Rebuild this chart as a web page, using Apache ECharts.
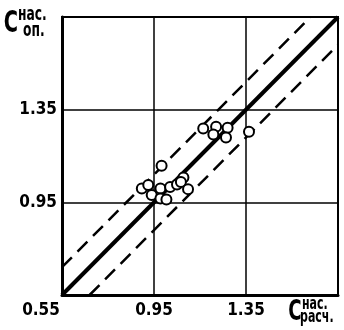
<!DOCTYPE html>
<html>
<head>
<meta charset="utf-8">
<script src="https://cdn.jsdelivr.net/npm/echarts@6/dist/echarts.min.js"></script>
<style>
    html, body {margin: 0; padding: 0; background: #fff;}
    #chart {width: 344px; height: 330px;}
</style>
</head>
<body>
<div id="chart"></div>
<script>
// оси
var axisMin = 0.55, axisMax = 1.75, axisStep = 0.4;
var xTickLabels = ['0.55', '0.95', '1.35'];
var yTickLabels = ['0.95', '1.35'];

// опытные точки: C расч. / C оп.
var calcValues = [1.164, 1.220, 1.270, 1.208, 1.263, 1.363, 0.983, 0.897, 0.925, 0.940,
    0.978, 0.978, 1.004, 1.020, 1.050, 1.078, 1.067, 1.098];
var expValues = [1.269, 1.276, 1.272, 1.243, 1.230, 1.255, 1.108, 1.010, 1.025, 0.982,
    1.010, 0.967, 0.962, 1.016, 1.027, 1.057, 1.038, 1.007];

// линия y = x и границы разброса
var diagonal = [[0.55, 0.55], [1.75, 1.75]];
var upperBound = [[0.55, 0.67], [1.63, 1.75]];
var lowerBound = [[0.67, 0.55], [1.75, 1.63]];

var labelFont = "'Liberation Sans Narrow', 'DejaVu Sans Condensed', sans-serif";

var chart = echarts.init(document.getElementById('chart'));

var points = [];
for (var i = 0; i < calcValues.length; i++) {
    points.push([calcValues[i], expValues[i]]);
}

function pickLabel(list) {
    return function (v) {
        var s = v.toFixed(2);
        if (list.indexOf(s) < 0) return '';
        if (s === '0.55') return '{c|' + s + '}';
        return s;
    };
}

function txt(x, y, text, size, align) {
    return {
        type: 'text', x: x, y: y, scaleX: 0.72,
        style: {text: text, fontFamily: labelFont, fontWeight: 'bold', fontSize: size, fill: '#000',
            align: align, verticalAlign: 'middle'}
    };
}

var option = {
    backgroundColor: '#fff',
    animation: false,
    grid: {
        left: 62, right: 6, top: 17, bottom: 35,
        show: true, borderColor: '#000', borderWidth: 2
    },
    xAxis: {
        type: 'value',
        min: axisMin, max: axisMax, interval: axisStep,
        axisLine: {lineStyle: {color: '#000', width: 3}},
        axisTick: {show: false},
        splitLine: {lineStyle: {color: '#000', width: 1.5}},
        axisLabel: {
            margin: 7,
            color: '#000',
            fontFamily: labelFont,
            fontWeight: 'bold',
            fontSize: 17,
            formatter: pickLabel(xTickLabels),
            rich: {
                c: {fontFamily: labelFont, fontWeight: 'bold', fontSize: 17, color: '#000', padding: [0, 42, 0, 0]}
            }
        }
    },
    yAxis: {
        type: 'value',
        min: axisMin, max: axisMax, interval: axisStep,
        axisLine: {lineStyle: {color: '#000', width: 3}},
        axisTick: {show: false},
        splitLine: {lineStyle: {color: '#000', width: 1.5}},
        axisLabel: {
            margin: 5,
            color: '#000',
            fontFamily: labelFont,
            fontWeight: 'bold',
            fontSize: 17,
            formatter: pickLabel(yTickLabels)
        }
    },
    series: [
        {
            type: 'line', data: diagonal, symbol: 'none', z: 2,
            lineStyle: {color: '#000', width: 4}
        },
        {
            type: 'line', data: upperBound, symbol: 'none', z: 2,
            lineStyle: {color: '#000', width: 2.5, type: [14, 8]}
        },
        {
            type: 'line', data: lowerBound, symbol: 'none', z: 2,
            lineStyle: {color: '#000', width: 2.5, type: [14, 8]}
        },
        {
            type: 'scatter', data: points, symbol: 'circle', symbolSize: 10, z: 5,
            itemStyle: {color: '#fff', borderColor: '#000', borderWidth: 2, opacity: 1}
        }
    ],
    graphic: [
        txt(11, 24, 'C', 30, 'center'),
        txt(18, 15, 'нас.', 19, 'left'),
        txt(23, 31, 'оп.', 19, 'left'),
        txt(295, 313, 'C', 28, 'center'),
        txt(302, 305, 'нас.', 17, 'left'),
        txt(300, 318, 'расч.', 17, 'left')
    ]
};

chart.setOption(option);
</script>
</body>
</html>
